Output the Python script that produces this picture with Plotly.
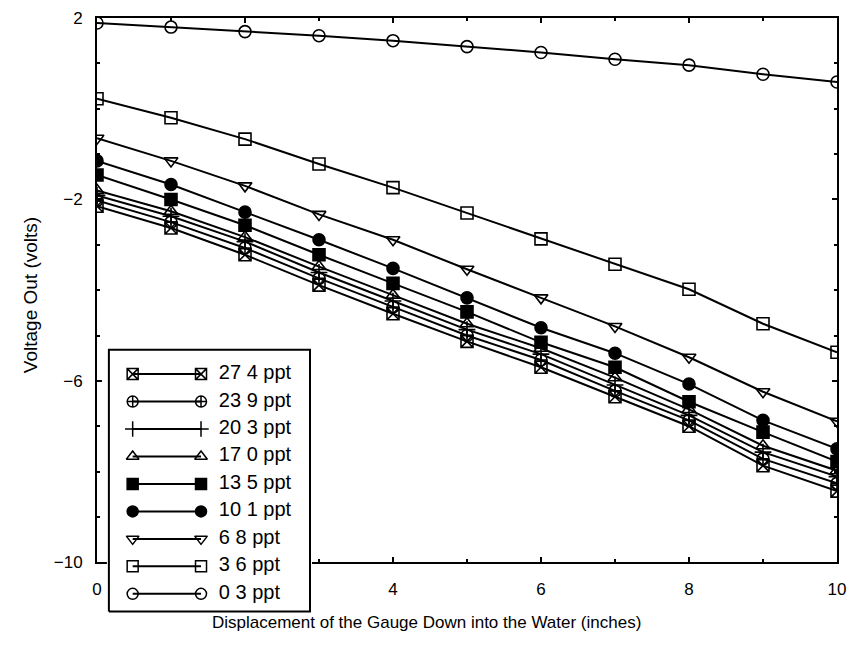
import plotly.graph_objects as go

# ---------------- data ----------------
displacement = [0, 1, 2, 3, 4, 5, 6, 7, 8, 9, 10]

series_names = ["27 4 ppt", "23 9 ppt", "20 3 ppt", "17 0 ppt", "13 5 ppt",
                "10 1 ppt", "6 8 ppt", "3 6 ppt", "0 3 ppt"]

v27_4 = [-2.15, -2.63, -3.22, -3.89, -4.52, -5.13, -5.70, -6.35, -7.00, -7.87, -8.43]
v23_9 = [-2.02, -2.50, -3.07, -3.74, -4.37, -5.00, -5.54, -6.22, -6.87, -7.72, -8.26]
v20_3 = [-1.91, -2.37, -2.93, -3.61, -4.24, -4.87, -5.41, -6.09, -6.76, -7.57, -8.11]
v17_0 = [-1.80, -2.26, -2.83, -3.48, -4.11, -4.74, -5.28, -5.93, -6.63, -7.43, -7.98]
v13_5 = [-1.46, -2.00, -2.57, -3.22, -3.85, -4.48, -5.15, -5.70, -6.46, -7.13, -7.78]
v10_1 = [-1.15, -1.67, -2.28, -2.89, -3.52, -4.17, -4.83, -5.39, -6.07, -6.87, -7.50]
v6_8 = [-0.65, -1.15, -1.70, -2.33, -2.89, -3.54, -4.17, -4.80, -5.48, -6.24, -6.89]
v3_6 = [0.22, -0.20, -0.67, -1.22, -1.74, -2.30, -2.87, -3.43, -3.98, -4.74, -5.37]
v0_3 = [1.89, 1.80, 1.70, 1.61, 1.50, 1.37, 1.24, 1.09, 0.96, 0.76, 0.59]

series_values = [v27_4, v23_9, v20_3, v17_0, v13_5, v10_1, v6_8, v3_6, v0_3]

y_tick_vals = [2, -2, -6, -10]
x_tick_vals = [0, 2, 4, 6, 8, 10]
x_tick_text = ["0", "", "4", "6", "8", "10"]   # "2" is hidden behind the legend box

# ---------------- styles ----------------
symbols = ["square-x-open", "circle-cross-open", "cross-thin-open", "triangle-up-open",
           "square", "circle", "triangle-down-open", "square-open", "circle-open"]
FONT = "Liberation Sans, Arial, sans-serif"

W, H = 854, 662
ML, MR, MT, MB = 97, 10, 18, 8
PW, PH = W - ML - MR, H - MT - MB


def fx(px):
    return (px - ML) / PW


def fy(py):
    return (H - MB - py) / PH


fig = go.Figure()

for name, vals, sym in zip(series_names, series_values, symbols):
    fig.add_trace(go.Scatter(
        x=displacement, y=vals, mode="lines+markers", name=name,
        line=dict(color="black", width=2),
        marker=dict(symbol=sym, size=12, color="black",
                    line=dict(color="black", width=1.6)),
        showlegend=False, xaxis="x", yaxis="y"))

# ---------------- custom legend (separate subplot) ----------------
LX0, LX1 = 109, 312          # legend box pixel edges
LY0, LY1 = 355, 621
ROW0, ROWSTEP = 603, 27.9    # bottom row pixel y, row spacing
n = len(series_names)


def ux(px):
    return (px - LX0) / (LX1 - LX0)


def vy(py):
    return (ROW0 - py) / ROWSTEP


# white box
fig.add_trace(go.Scatter(
    x=[0, 1, 1, 0, 0], y=[vy(LY1), vy(LY1), vy(LY0), vy(LY0), vy(LY1)],
    mode="lines", fill="toself", fillcolor="white",
    line=dict(color="black", width=2), hoverinfo="skip",
    showlegend=False, xaxis="x2", yaxis="y2"))

for i, (name, sym) in enumerate(zip(series_names, symbols)):
    row = n - 1 - i
    fig.add_trace(go.Scatter(
        x=[ux(133), ux(202)], y=[row, row], mode="lines+markers",
        line=dict(color="black", width=2),
        marker=dict(symbol=sym, size=11, color="black",
                    line=dict(color="black", width=1.5)),
        showlegend=False, hoverinfo="skip", xaxis="x2", yaxis="y2"))
    fig.add_trace(go.Scatter(
        x=[ux(220)], y=[row], mode="text", text=[name],
        textposition="middle right",
        textfont=dict(family=FONT, size=20, color="black"),
        showlegend=False, hoverinfo="skip", xaxis="x2", yaxis="y2"))

axis_common = dict(showline=True, linecolor="black", linewidth=2, mirror="ticks",
                   showgrid=False, zeroline=False, ticks="inside", ticklen=5,
                   tickcolor="black", tickwidth=1.5,
                   tickfont=dict(family=FONT, size=17, color="black"))

fig.update_layout(
    width=W, height=H,
    margin=dict(l=ML, r=MR, t=MT, b=MB),
    paper_bgcolor="white", plot_bgcolor="white",
    showlegend=False,
    xaxis=dict(domain=[0, 1], range=[0, 10], anchor="y",
               tickvals=x_tick_vals, ticktext=x_tick_text, ticklabelstandoff=10,
               minor=dict(dtick=1, ticks="inside", ticklen=3, tickcolor="black"),
               **axis_common),
    yaxis=dict(domain=[fy(571), 1], range=[-10, 2], anchor="x",
               tickvals=y_tick_vals, ticklabelstandoff=9,
               minor=dict(dtick=1, tick0=0, ticks="inside", ticklen=3, tickcolor="black"),
               **axis_common),
    xaxis2=dict(domain=[fx(LX0 - 2), fx(LX1 + 2)],
                range=[ux(LX0 - 2), ux(LX1 + 2)], anchor="y2",
                visible=False, fixedrange=True),
    yaxis2=dict(domain=[fy(LY1 + 2), fy(LY0 - 2)],
                range=[vy(LY1 + 2), vy(LY0 - 2)], anchor="x2",
                visible=False, fixedrange=True),
    annotations=[
        dict(text="Displacement of the Gauge Down into the Water (inches)",
             xref="paper", yref="paper", x=fx(430), y=fy(632),
             xanchor="center", yanchor="middle", showarrow=False,
             font=dict(family=FONT, size=17, color="black")),
        dict(text="Voltage Out (volts)", textangle=-90,
             xref="paper", yref="paper", x=fx(30), y=fy(300),
             xanchor="center", yanchor="middle", showarrow=False,
             font=dict(family=FONT, size=19, color="black")),
    ],
)

fig.write_html("out.html")
